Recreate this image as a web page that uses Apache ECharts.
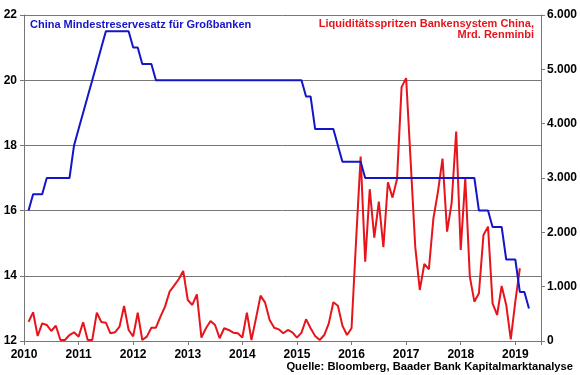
<!DOCTYPE html>
<html>
<head>
<meta charset="utf-8">
<script src="https://cdn.jsdelivr.net/npm/echarts@6/dist/echarts.min.js"></script>
<style>html,body{margin:0;padding:0;background:#fff}#c{width:580px;height:375px}</style>
</head>
<body>
<div id="c"></div>
<script>
// Monthly data, month-end values, first month Jan 2010
var firstYear = 2010;
var firstMonth = 1;
// China reserve requirement ratio, large banks (%), Jan 2010 .. Mar 2019
var reserveRatio = [
  16.0,
  16.5, 16.5, 16.5,
  17.0, 17.0, 17.0, 17.0, 17.0, 17.0,
  18.0, 18.5,
  19.0, 19.5, 20.0, 20.5, 21.0,
  21.5, 21.5, 21.5, 21.5, 21.5, 21.5,
  21.0, 21.0,
  20.5, 20.5, 20.5,
  20.0, 20.0, 20.0, 20.0, 20.0, 20.0, 20.0, 20.0, 20.0, 20.0, 20.0,
  20.0, 20.0, 20.0, 20.0, 20.0, 20.0, 20.0, 20.0, 20.0, 20.0, 20.0,
  20.0, 20.0, 20.0, 20.0, 20.0, 20.0, 20.0, 20.0, 20.0, 20.0, 20.0,
  19.5, 19.5,
  18.5, 18.5, 18.5, 18.5, 18.5,
  18.0,
  17.5, 17.5, 17.5, 17.5, 17.5,
  17.0, 17.0, 17.0, 17.0, 17.0, 17.0, 17.0, 17.0, 17.0, 17.0,
  17.0, 17.0, 17.0, 17.0, 17.0, 17.0, 17.0, 17.0, 17.0, 17.0,
  17.0, 17.0, 17.0, 17.0, 17.0,
  16.0, 16.0, 16.0,
  15.5, 15.5, 15.5,
  14.5, 14.5, 14.5,
  13.5, 13.5,
  13.0
];
// Liquidity injections, bn Renminbi, Jan 2010 .. Jan 2019
var liquidity = [
  355, 528, 92, 325, 295, 184, 282, 18, 18, 110, 160, 80,
  344, 18, 18, 521, 350, 337, 142, 160, 264, 645, 203, 85,
  521, 18, 80, 245, 245, 448, 632, 908, 1018, 1136, 1289, 755,
  663, 860, 61, 234, 368, 295, 50, 234, 203, 153, 142, 65,
  521, 18, 418, 835, 706, 387, 245, 215, 142, 203, 160, 61,
  153, 400, 234, 92, 18, 110, 325, 713, 650, 280, 110, 234,
  1850, 3394, 1461, 2794, 1903, 2566, 1725, 2922, 2639, 2983, 4672, 4838,
  3300, 1736, 939, 1418, 1320, 2260, 2750, 3358, 2013, 2536, 3855, 1676,
  2996, 1184, 724, 878, 1952, 2105, 694, 479, 1013, 663, 31, 724,
  1339
];
var yearTicks = ['2010','2011','2012','2013','2014','2015','2016','2017','2018','2019'];
var leftTicks = [12, 14, 16, 18, 20, 22];
var rightTicks = [0, 1000, 2000, 3000, 4000, 5000, 6000];
var blueTitle = 'China Mindestreservesatz für Großbanken';
var redTitle1 = 'Liquiditätsspritzen Bankensystem China,';
var redTitle2 = 'Mrd. Renminbi';
var sourceText = 'Quelle: Bloomberg, Baader Bank Kapitalmarktanalyse';

function toX(i) { return firstYear + (firstMonth - 1 + i + 1) / 12; }
var blueData = reserveRatio.map(function (v, i) { return [toX(i), v]; });
var redData = liquidity.map(function (v, i) { return [toX(i), v]; });

var BLUE = '#1414c8', RED = '#e8141c', GRID = '#777777';
var FONT = 'Liberation Sans, Arial, sans-serif';
var labelStyle = { color: '#000', fontWeight: 'bold', fontSize: 12, fontFamily: FONT };

var chart = echarts.init(document.getElementById('c'), null, { renderer: 'canvas' });
chart.setOption({
  animation: false,
  backgroundColor: '#fff',
  grid: { left: 24, right: 39, top: 15, bottom: 34, containLabel: false },
  xAxis: {
    type: 'value',
    min: 2010,
    max: 2019.47,
    interval: 1,
    axisLine: { show: true, lineStyle: { color: GRID, width: 1 } },
    axisTick: { show: true, inside: false, length: 4, lineStyle: { color: GRID } },
    splitLine: { show: false },
    axisLabel: Object.assign({}, labelStyle, {
      margin: 8,
      formatter: function (v) {
        var s = String(Math.round(v));
        return (Math.abs(v - Math.round(v)) < 1e-6 && yearTicks.indexOf(s) >= 0) ? s : '';
      }
    })
  },
  yAxis: [
    {
      type: 'value',
      min: leftTicks[0],
      max: leftTicks[leftTicks.length - 1],
      interval: 2,
      position: 'left',
      axisLine: { show: true, lineStyle: { color: GRID } },
      axisTick: { show: true, inside: false, length: 4, lineStyle: { color: GRID } },
      splitLine: { show: true, lineStyle: { color: GRID, width: 1 } },
      axisLabel: Object.assign({}, labelStyle, { margin: 7 })
    },
    {
      type: 'value',
      min: rightTicks[0],
      max: rightTicks[rightTicks.length - 1],
      interval: 1000,
      position: 'right',
      axisLine: { show: true, lineStyle: { color: GRID } },
      axisTick: { show: true, inside: false, length: 4, lineStyle: { color: GRID } },
      splitLine: { show: false },
      axisLabel: Object.assign({}, labelStyle, {
        margin: 6,
        formatter: function (v) {
          return v === 0 ? '0' : (Math.floor(v / 1000) + '.' + String(v % 1000).padStart(3, '0'));
        }
      })
    }
  ],
  series: [
    {
      type: 'line', yAxisIndex: 1, data: redData, showSymbol: false, symbol: 'none',
      lineStyle: { color: RED, width: 2 }, z: 3
    },
    {
      type: 'line', yAxisIndex: 0, data: blueData, showSymbol: false, symbol: 'none',
      lineStyle: { color: BLUE, width: 2 }, z: 4
    }
  ],
  graphic: [
    { type: 'text', left: 30, top: 19, style: { text: blueTitle, fill: BLUE, font: 'bold 11px ' + FONT } },
    { type: 'text', right: 46, top: 18, style: { text: redTitle1, fill: RED, font: 'bold 11px ' + FONT, textAlign: 'right' } },
    { type: 'text', right: 46, top: 29.5, style: { text: redTitle2, fill: RED, font: 'bold 11px ' + FONT, textAlign: 'right' } },
    { type: 'text', right: 7, top: 361, style: { text: sourceText, fill: '#000', font: 'bold 11.2px ' + FONT } }
  ]
});
</script>
</body>
</html>
